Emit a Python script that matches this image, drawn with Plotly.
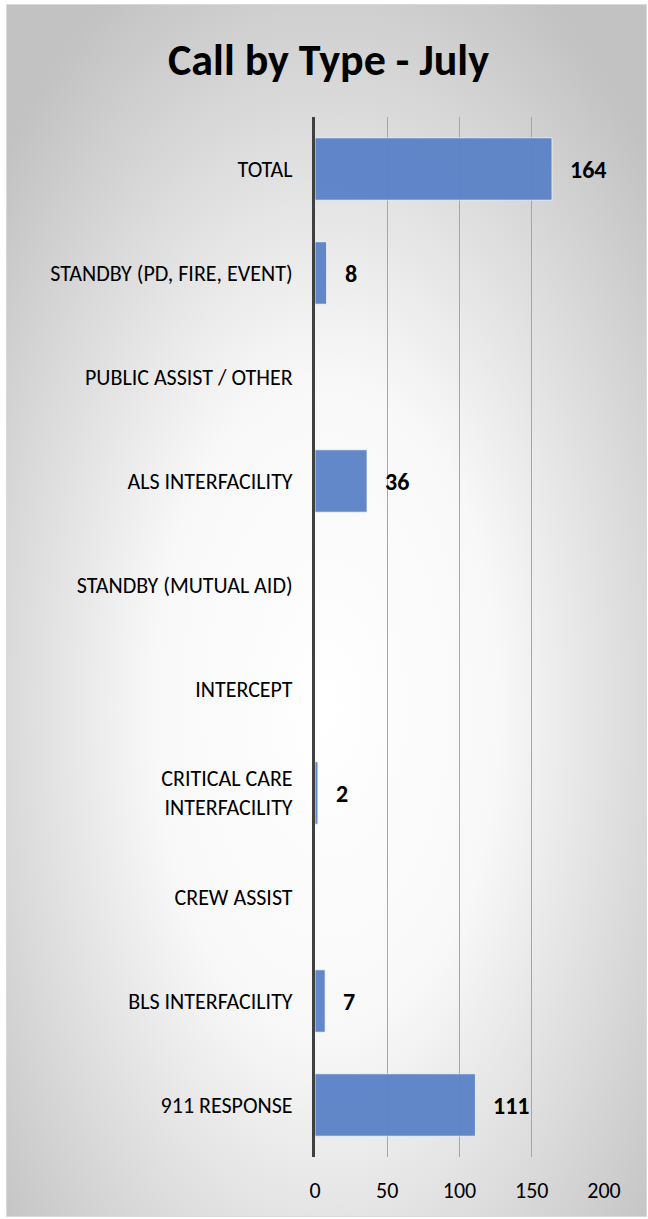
import base64
import plotly.graph_objects as go

# data (bottom to top, as drawn)
categories = [
    '911 RESPONSE',
    'BLS INTERFACILITY',
    'CREW ASSIST',
    'CRITICAL CARE<br>INTERFACILITY',
    'INTERCEPT',
    'STANDBY (MUTUAL AID)',
    'ALS INTERFACILITY',
    'PUBLIC ASSIST / OTHER',
    'STANDBY (PD, FIRE, EVENT)',
    'TOTAL',
]
calls = [111, 7, None, 2, None, None, 36, None, 8, 164]
x_ticks = [0, 50, 100, 150, 200]

FONT = 'Carlito, Lato, sans-serif'
W, H = 648, 1219
ML, MR, MT, MB = 315, 44, 117, 62

# radial gradient background (white centre, grey edges)
svg = f'''<svg xmlns="http://www.w3.org/2000/svg" width="639" height="1211" preserveAspectRatio="none">
<defs><radialGradient id="g" cx="50%" cy="58%" r="68%">
<stop offset="0" stop-color="#ffffff"/>
<stop offset="0.4" stop-color="#f8f8f8"/>
<stop offset="1" stop-color="#c2c2c2"/>
</radialGradient></defs>
<rect width="639" height="1211" fill="url(#g)"/></svg>'''
bg_src = 'data:image/svg+xml;base64,' + base64.b64encode(svg.encode()).decode()

pw = W - ML - MR
ph = H - MT - MB

fig = go.Figure()
fig.add_trace(go.Bar(
    y=categories,
    x=calls,
    orientation='h',
    marker=dict(color='#5a82c8', line=dict(color='rgba(255,255,255,0.7)', width=1)),
    opacity=0.95,
    width=0.6,
    hoverinfo='x+y',
))

# value labels
for c, v in zip(categories, calls):
    if v is None:
        continue
    fig.add_annotation(
        x=v, y=c, text=f'<b>{v}</b>', showarrow=False,
        xanchor='left', xshift=16,
        font=dict(family=FONT, size=24, color='#000000'),
    )

fig.update_layout(
    width=W, height=H,
    margin=dict(l=ML, r=MR, t=MT, b=MB),
    paper_bgcolor='white',
    plot_bgcolor='rgba(0,0,0,0)',
    showlegend=False,
    font=dict(family=FONT, size=22, color='#000000'),
    title=dict(
        text='<b>Call by Type - July</b>',
        x=0.507, xanchor='center', y=0.951, yanchor='middle',
        font=dict(family=FONT, size=44, color='#000000'),
    ),
    images=[dict(
        source=bg_src, xref='paper', yref='paper',
        x=(7 - ML) / pw, y=(H - MB - 5) / ph,
        sizex=639 / pw, sizey=1211 / ph,
        sizing='stretch', layer='below', xanchor='left', yanchor='top',
    )],
    shapes=[dict(
        type='rect', xref='paper', yref='paper',
        x0=(6.5 - ML) / pw, x1=(646.5 - ML) / pw,
        y0=(H - MB - 1216.5) / ph, y1=(H - MB - 4.5) / ph,
        line=dict(color='#d9d9d9', width=1), layer='below',
    )],
    bargap=0.4,
)

fig.update_xaxes(
    range=[0, 200], tickvals=x_ticks,
    showgrid=True, gridcolor='#a6a6a6', gridwidth=1,
    zeroline=False, showline=False,
    ticks='outside', ticklen=14, tickcolor='rgba(0,0,0,0)',
    tickfont=dict(family=FONT, size=22),
    fixedrange=True,
)
fig.update_yaxes(
    showline=True, linecolor='#404040', linewidth=3,
    showgrid=False,
    ticks='outside', ticklen=15, tickcolor='rgba(0,0,0,0)',
    tickfont=dict(family=FONT, size=22),
    fixedrange=True,
)

fig.write_html(
    'out.html',
    config={'displayModeBar': False},
    post_script="document.body.style.margin='0';document.body.style.overflow='hidden';",
)
